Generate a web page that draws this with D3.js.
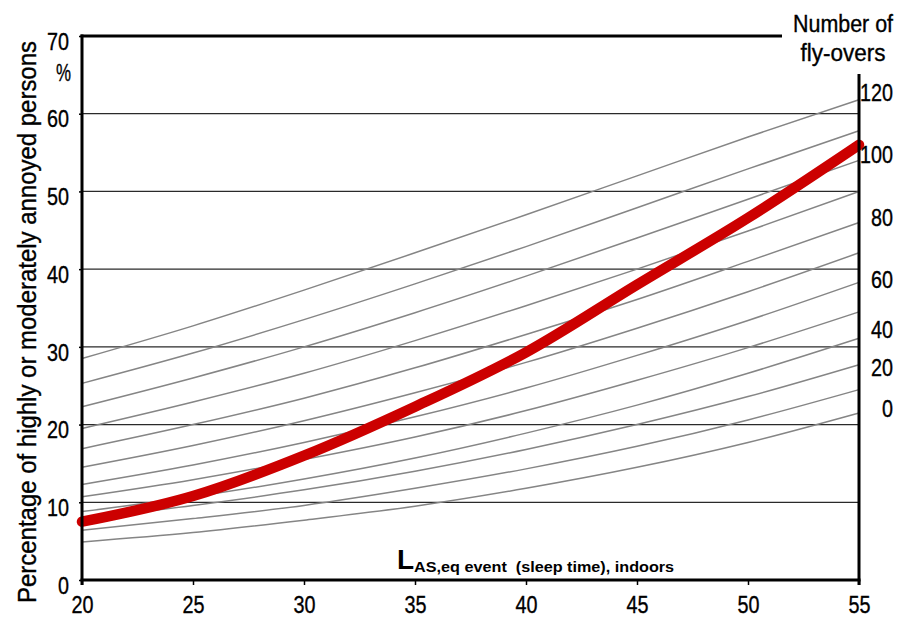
<!DOCTYPE html>
<html>
<head>
<meta charset="utf-8">
<script src="https://cdn.jsdelivr.net/npm/d3@7/dist/d3.min.js"></script>
<style>
  html, body { margin: 0; padding: 0; background: #fff; }
  svg { display: block; }
  .narrow { font-family: "Liberation Sans", Arial, sans-serif; stroke: #000; stroke-width: 0.35px; fill: #000; }
</style>
</head>
<body>
<svg id="chart" width="899" height="618"></svg>
<script>
// Sound level (L_AS,eq of an event, indoors) in dB
const levels = [20, 25, 30, 35, 40, 45, 50, 55];

// Percentage annoyed for each number of fly-overs (top curve = most fly-overs)
const flyoverCurves = [
  [28.5, 32.7, 37.3, 42.1, 47.0, 52.0, 57.0, 61.8],
  [25.3, 29.2, 33.5, 38.1, 42.9, 47.9, 52.9, 57.8],
  [22.3, 26.0, 30.0, 34.4, 39.1, 44.0, 49.0, 54.0],
  [19.5, 22.9, 26.6, 30.8, 35.3, 40.0, 44.9, 50.0],
  [16.9, 20.0, 23.4, 27.3, 31.6, 36.1, 41.0, 46.0],
  [14.5, 17.3, 20.5, 24.1, 28.0, 32.4, 37.1, 42.1],
  [12.3, 14.8, 17.7, 21.0, 24.7, 28.9, 33.4, 38.3],
  [10.7, 12.9, 15.5, 18.4, 21.8, 25.7, 29.9, 34.5],
  [ 8.8, 10.7, 13.0, 15.7, 18.9, 22.5, 26.6, 31.1],
  [ 7.9,  9.6, 11.6, 14.0, 16.8, 20.0, 23.6, 27.7],
  [ 6.4,  7.9,  9.6, 11.8, 14.3, 17.2, 20.6, 24.5],
  [ 4.9,  6.1,  7.7,  9.5, 11.8, 14.5, 17.7, 21.5]
];

// Overall annoyance curve
const annoyance = [7.5, 10.8, 16.0, 22.3, 29.3, 38.0, 46.6, 56.0];

// Axis ticks
const xTicks = [20, 25, 30, 35, 40, 45, 50, 55];
const yTicks = [0, 10, 20, 30, 40, 50, 60, 70];

// Number-of-fly-overs labels and where they sit on the percentage scale
const flyLabels = ["120", "100", "80", "60", "40", "20", "0"];
const flyLabelPct = [62.7, 54.7, 46.6, 38.6, 32.2, 27.3, 22.1];

const svg = d3.select("#chart");
const plotLeft = 82, plotRight = 859, plotTop = 36, plotBottom = 580;
const digitW = 11; // condensed digit advance
const labelSize = 24;

const x = d3.scaleLinear().domain([20, 55]).range([plotLeft, plotRight]);
const y = d3.scaleLinear().domain([0, 70]).range([plotBottom, plotTop]);

// squeeze a text to a condensed width
function condense(sel, widthFn) {
  sel.attr("textLength", widthFn).attr("lengthAdjust", "spacingAndGlyphs");
}

// Horizontal gridlines
svg.append("g")
  .selectAll("line")
  .data(yTicks.filter(d => d > 0 && d < 70))
  .join("line")
  .attr("x1", plotLeft).attr("x2", plotRight)
  .attr("y1", d => y(d)).attr("y2", d => y(d))
  .attr("stroke", "#2a2a2a")
  .attr("stroke-width", 1.2);

// Fly-over curves
const line = d3.line()
  .x((d, i) => x(levels[i]))
  .y(d => y(d))
  .curve(d3.curveMonotoneX);

svg.append("g")
  .selectAll("path")
  .data(flyoverCurves)
  .join("path")
  .attr("d", line)
  .attr("fill", "none")
  .attr("stroke", "#858585")
  .attr("stroke-width", 1.5);

// Main annoyance curve
svg.append("path")
  .attr("d", line(annoyance))
  .attr("fill", "none")
  .attr("stroke", "#cc0000")
  .attr("stroke-width", 10.5)
  .attr("stroke-linecap", "round")
  .attr("stroke-linejoin", "round");

// Frame: left, bottom, top (partial) and right axis
const frame = svg.append("g").attr("stroke", "#000").attr("stroke-width", 3).attr("fill", "none");
frame.append("line").attr("x1", plotLeft).attr("x2", plotLeft).attr("y1", plotTop - 1.5).attr("y2", plotBottom + 5);
frame.append("line").attr("x1", plotLeft - 1.5).attr("x2", plotRight + 1.5).attr("y1", plotBottom).attr("y2", plotBottom);
frame.append("line").attr("x1", plotLeft - 1.5).attr("x2", 782).attr("y1", plotTop).attr("y2", plotTop);
frame.append("line").attr("x1", plotRight).attr("x2", plotRight).attr("y1", 74).attr("y2", plotBottom + 5);

// X axis ticks and labels
const xAxis = d3.axisBottom(x).tickValues(xTicks).tickSize(5).tickPadding(11).tickFormat(d3.format("d"));
const gx = svg.append("g").attr("transform", `translate(0,${plotBottom})`).call(xAxis);
gx.select(".domain").remove();
gx.selectAll(".tick line").attr("stroke", "#000").attr("stroke-width", 1.5);
gx.selectAll(".tick text")
  .attr("class", "narrow")
  .attr("font-size", labelSize)
  .call(condense, d => String(d).length * digitW);

// Y axis ticks and labels
const yAxis = d3.axisLeft(y).tickValues(yTicks).tickSize(3).tickPadding(10).tickFormat(d3.format("d"));
const gy = svg.append("g").attr("transform", `translate(${plotLeft},0)`).call(yAxis);
gy.select(".domain").remove();
gy.selectAll(".tick line").attr("stroke", "#000").attr("stroke-width", 1.5);
gy.selectAll(".tick text")
  .attr("class", "narrow")
  .attr("font-size", labelSize)
  .attr("dy", "0.55em")
  .call(condense, d => String(d).length * digitW);

// Percent sign under the top tick
svg.append("text")
  .attr("class", "narrow")
  .attr("x", 71).attr("y", y(65.3))
  .attr("dy", "0.35em")
  .attr("text-anchor", "end")
  .attr("font-size", labelSize)
  .attr("textLength", 15).attr("lengthAdjust", "spacingAndGlyphs")
  .text("%");

// Y axis title
svg.append("text")
  .attr("class", "narrow")
  .attr("transform", `translate(27,${322}) rotate(-90)`)
  .attr("text-anchor", "middle")
  .attr("dy", "0.35em")
  .attr("font-size", 25)
  .attr("textLength", 562).attr("lengthAdjust", "spacingAndGlyphs")
  .text("Percentage of highly or moderately annoyed persons");

// Right-hand fly-over labels
svg.append("g")
  .selectAll("text")
  .data(flyLabels)
  .join("text")
  .attr("class", "narrow")
  .attr("x", 893)
  .attr("y", (d, i) => y(flyLabelPct[i]))
  .attr("dy", "0.35em")
  .attr("text-anchor", "end")
  .attr("font-size", labelSize)
  .call(condense, d => d.length * digitW)
  .text(d => d);

// Right-hand axis title
const rt = svg.append("text")
  .attr("class", "narrow")
  .attr("text-anchor", "middle")
  .attr("font-size", 23);
rt.append("tspan").attr("x", 843).attr("y", 32)
  .attr("textLength", 100).attr("lengthAdjust", "spacingAndGlyphs").text("Number of");
rt.append("tspan").attr("x", 843).attr("y", 61)
  .attr("textLength", 85).attr("lengthAdjust", "spacingAndGlyphs").text("fly-overs");

// X axis title with subscript
const xt = svg.append("text")
  .attr("x", 397).attr("y", 569)
  .attr("font-family", "'Liberation Sans', Arial, sans-serif")
  .attr("font-weight", "bold")
  .style("white-space", "pre");
xt.append("tspan").attr("font-size", 28).text("L");
xt.append("tspan").attr("font-size", 15).attr("dy", 3)
  .attr("textLength", 260).attr("lengthAdjust", "spacingAndGlyphs")
  .text("AS,eq event  (sleep time), indoors");
</script>
</body>
</html>
